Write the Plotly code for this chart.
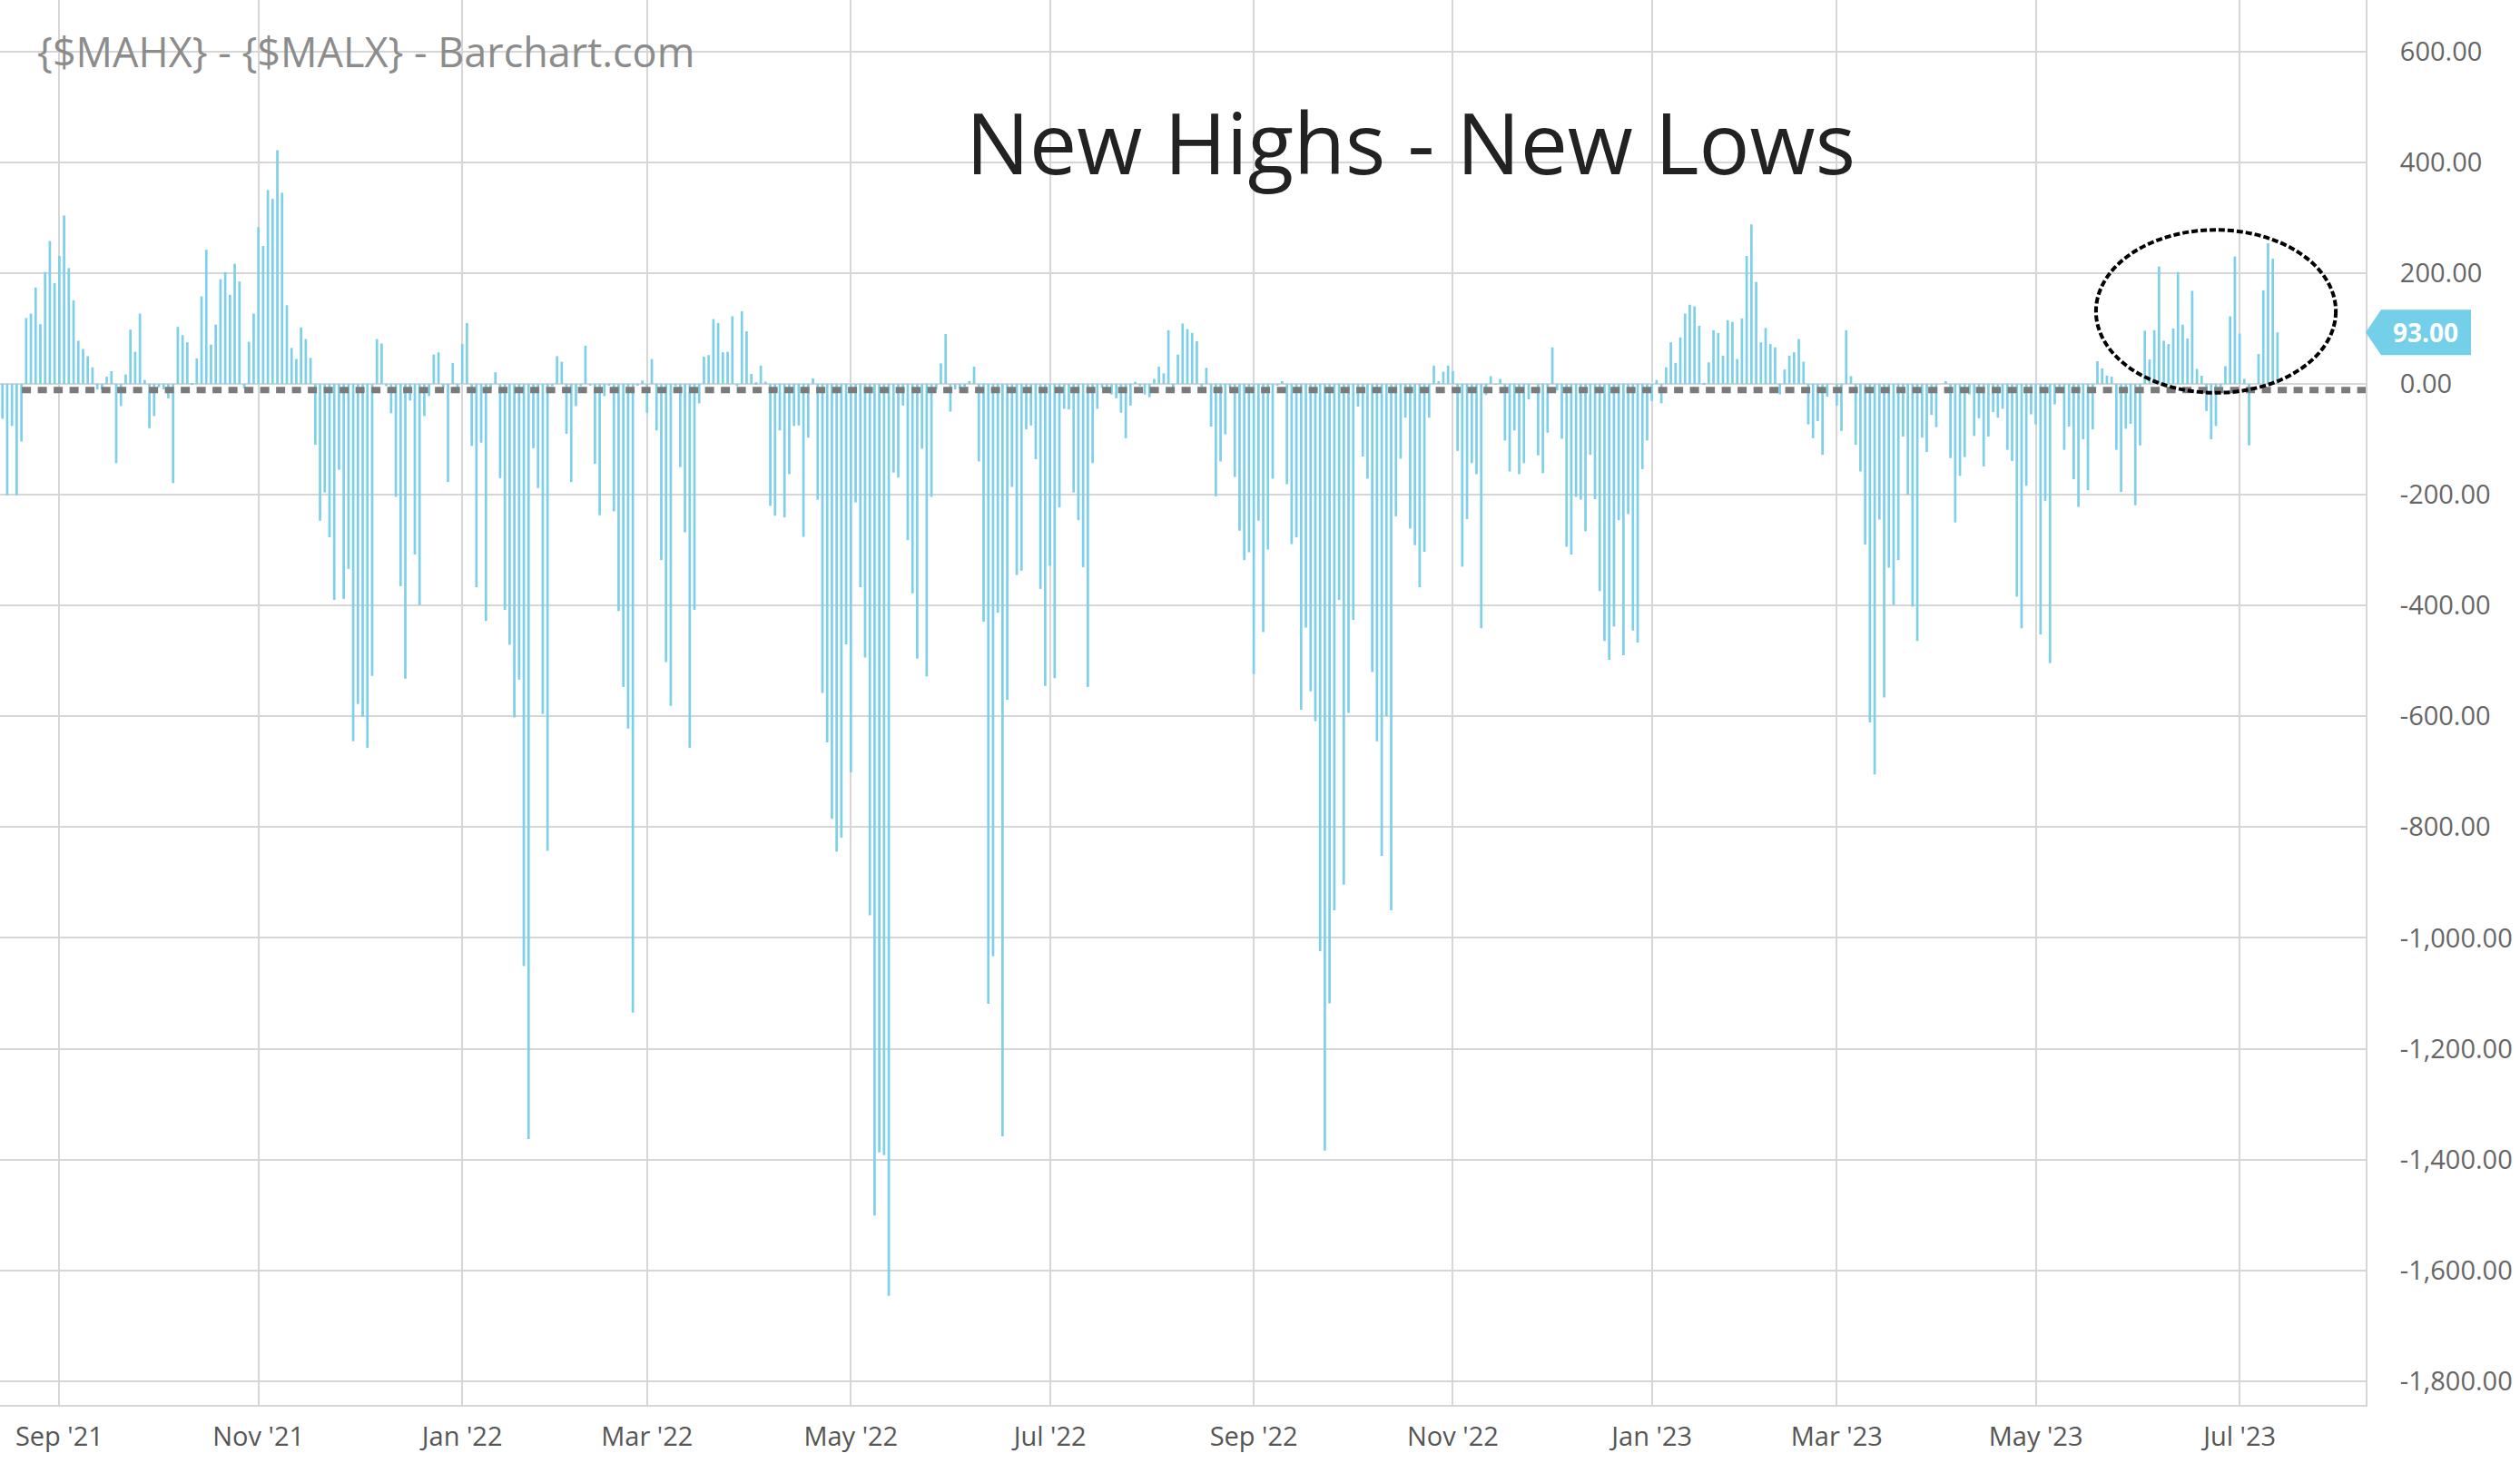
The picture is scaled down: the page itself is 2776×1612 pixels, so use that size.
import pandas as pd
import plotly.graph_objects as go

# ---------------- data ----------------
start_date = "2021-08-16"
end_date = "2023-07-14"
market_holidays = [
    "2021-09-06", "2021-11-25", "2021-12-24", "2022-01-17", "2022-02-21",
    "2022-04-15", "2022-05-30", "2022-06-20", "2022-07-04", "2022-09-05",
    "2022-11-24", "2022-12-26", "2023-01-02", "2023-01-16", "2023-02-20",
    "2023-04-07", "2023-05-29", "2023-06-19", "2023-07-04",
]

aug_2021 = [-63, -201, -76, -201, -104, 119, 127, 174, 108, 202, 258, 182]
sep_2021 = [231, 304, 209, 151, 78, 63, 50, 30, -10, -10, 13, 23, -143, -40, 17, 98, 58, 127, 7, -80, -58]
oct_2021 = [-6, -10, -26, -179, 103, 88, 75, 1, 46, 158, 242, 71, 107, 189, 202, 161, 217, 185, -8, 76, 127]
nov_2021 = [283, 249, 350, 334, 422, 345, 142, 65, 45, 102, 81, 47, -110, -247, -196, -277, -390, -155, -388, -334, -645]
dec_2021 = [-578, -601, -657, -527, 81, 73, -4, -53, -204, -365, -532, -30, -308, -399, -58, -22, 53, 57, -7, -177, 38, -13]
jan_2022 = [72, 110, -112, -367, -106, -428, -9, 21, -170, -408, -471, -602, -534, -1051, -1363, -116, -188, -596, -843, -4]
feb_2022 = [50, 40, -90, -177, -40, -4, 69, -3, -144, -237, -22, -3, -230, -410, -547, -622, -1135, -3, 6]
mar_2022 = [-52, 45, -84, -318, -502, -581, -4, -150, -268, -657, -408, -35, 49, 52, 117, 110, 57, 58, 122, -4, 131, 95, 18]
apr_2022 = [3, 33, 4, -220, -238, -84, -241, -163, -76, -75, -276, -97, 10, -209, -558, -647, -785, -844, -819, -470]
may_2022 = [-701, -214, -367, -494, -959, -1501, -1387, -1392, -1646, -160, -169, -39, -282, -378, -496, -117, -528, -204, -10, 37, 90]
jun_2022 = [-50, -10, -8, -5, 5, 31, -140, -429, -1119, -1033, -413, -1358, -570, -186, -345, -337, -82, -75, -136, -370, -545]
jul_2022 = [-328, -531, -223, -45, -46, -196, -246, -331, -547, -143, -45, -7, -7, -19, -26, -52, -98, -39, 4, -4]
aug_2022 = [-19, -24, 9, 31, 19, 97, -10, 53, 109, 99, 92, 77, -5, 29, -77, -203, -140, -91, -7, -168, -265, -318, -304]
sep_2022 = [-524, -247, -448, -299, -171, -3, 5, -181, -289, -277, -588, -440, -555, -609, -1024, -1384, -1118, -950, -390, -904, -594]
oct_2022 = [-426, -41, -131, -171, -520, -645, -852, -600, -950, -239, -135, -61, -261, -291, -367, -303, -61, 33, 5, 22, 33]
nov_2022 = [23, -121, -330, -244, -143, -163, -441, -20, 14, -1, 9, -102, -158, -84, -163, -143, -28, 0, -129, -161, -88]
dec_2022 = [66, -12, -99, -294, -308, -204, -209, -266, -128, -208, -374, -464, -498, -438, -246, -490, -235, -445, -467, -154, -102]
jan_2023 = [-31, 7, -35, 30, 75, 38, 84, 127, 143, 140, 105, 2, 39, 97, 92, 51, 115, 112, 45, 118]
feb_2023 = [231, 288, 184, 75, 101, 72, 66, -19, 26, 51, 57, 81, 40, -73, -98, -67, -128, -23, 0]
mar_2023 = [-39, -85, 97, 14, -110, -158, -290, -611, -705, -245, -566, -332, -399, -318, -95, -200, -402, -464, -97, -123, -56, -78, 0]
apr_2023 = [5, -134, -250, -166, -132, -19, -94, -62, -149, -95, -51, -61, -45, -119, -139, -384, -441, -184, -55]
may_2023 = [-73, -452, -211, -504, -37, -16, -119, -77, -172, -222, -100, -192, -82, 41, 28, 15, 13, -119, -195, -81, -72, -219]
jun_2023 = [-111, 96, 44, 97, 212, 78, 72, 100, 202, 107, 82, 168, 27, 15, -49, -100, -76, -5, 32, 122, 230]
jul_2023 = [91, 9, -111, 0, 54, 169, 254, 226, 93]

tick_months = ["2021-09", "2021-11", "2022-01", "2022-03", "2022-05", "2022-07",
               "2022-09", "2022-11", "2023-01", "2023-03", "2023-05", "2023-07"]
tick_labels = ["Sep '21", "Nov '21", "Jan '22", "Mar '22", "May '22", "Jul '22",
               "Sep '22", "Nov '22", "Jan '23", "Mar '23", "May '23", "Jul '23"]

y_ticks = list(range(-1800, 601, 200))
y_tick_labels = [f"{v:,.2f}" for v in y_ticks]

ref_level = -11          # dotted reference line value
ref_start_index = 4.1    # where the dotted line begins
highlight = dict(i0=441.7, i1=492.3, v0=-16, v1=278)   # hand-drawn ellipse

source_text = "{$MAHX} - {$MALX} - Barchart.com"
title_text = "New Highs - New Lows"

# ---------------- build ----------------
values = (aug_2021 + sep_2021 + oct_2021 + nov_2021 + dec_2021 + jan_2022 + feb_2022
          + mar_2022 + apr_2022 + may_2022 + jun_2022 + jul_2022 + aug_2022 + sep_2022
          + oct_2022 + nov_2022 + dec_2022 + jan_2023 + feb_2023 + mar_2023 + apr_2023
          + may_2023 + jun_2023 + jul_2023)

dates = pd.bdate_range(start_date, end_date, freq="C", holidays=market_holidays)
x_labels = [d.strftime("%Y-%m-%d") for d in dates]
n = min(len(x_labels), len(values))
x_labels = x_labels[:n]
values = values[:n]

tick_vals = []
for m in tick_months:
    first = next(d for d in x_labels if d.startswith(m))
    tick_vals.append(first)

bar_color = "#7dd0e8"
grid_color = "#d6d6d6"
x_max = n - 1 + 18.6

fig = go.Figure()
fig.add_trace(go.Bar(x=x_labels, y=values, marker=dict(color=bar_color, line=dict(width=0)),
                     hoverinfo="x+y"))

fig.update_layout(
    width=2776, height=1612,
    margin=dict(l=0, r=170, t=0, b=64, autoexpand=False),
    paper_bgcolor="white", plot_bgcolor="white",
    bargap=0.48, showlegend=False,
    font=dict(family="Open Sans", color="#666666"),
    xaxis=dict(type="category", range=[-0.52, x_max],
               tickmode="array", tickvals=tick_vals, ticktext=tick_labels,
               showgrid=True, gridcolor=grid_color, gridwidth=2,
               ticks="", tickfont=dict(size=29, color="#555555"),
               showline=True, linecolor=grid_color, linewidth=2,
               ticklabelstandoff=8, zeroline=False),
    yaxis=dict(side="right", range=[-1843, 693],
               tickmode="array", tickvals=y_ticks, ticktext=y_tick_labels,
               showgrid=True, gridcolor=grid_color, gridwidth=2, zeroline=False,
               ticks="", tickfont=dict(size=29, color="#666666"),
               showline=True, linecolor=grid_color, linewidth=2,
               ticklabelstandoff=30),
)

last_val = values[-1]

fig.add_shape(type="line", xref="x", yref="y", x0=ref_start_index, x1=x_max,
              y0=ref_level, y1=ref_level,
              line=dict(color="#7a7a7a", width=7, dash="10px,7.5px"))
fig.add_shape(type="circle", xref="x", yref="y",
              x0=highlight["i0"], x1=highlight["i1"], y0=highlight["v0"], y1=highlight["v1"],
              line=dict(color="black", width=4, dash="7px,3px"))
fig.add_shape(type="path", xref="paper", yref="y", xsizemode="pixel", ysizemode="pixel",
              xanchor=1, yanchor=last_val,
              path="M0,0 L17,25 L116,25 L116,-25 L17,-25 Z",
              fillcolor="#74cfe8", line=dict(width=0))

fig.add_annotation(xref="paper", yref="y", x=2672 / 2606, y=last_val,
                   text=f"<b>{last_val:.2f}</b>", showarrow=False,
                   xanchor="center", yanchor="middle",
                   font=dict(family="Open Sans", size=28, color="white"))
fig.add_annotation(xref="paper", yref="paper", x=39 / 2606, y=1 - 57 / 1548,
                   text=source_text, showarrow=False, xanchor="left", yanchor="middle",
                   font=dict(family="Open Sans", size=45, color="#8c8c8c"))
fig.add_annotation(xref="paper", yref="paper", x=1554 / 2606, y=1 - 156 / 1548,
                   text=title_text, showarrow=False, xanchor="center", yanchor="middle",
                   font=dict(family="Open Sans", size=93, color="#222222"))

fig.write_html("out.html", config={"displayModeBar": False},
               post_script="document.body.style.margin='0';document.body.style.padding='0';")
